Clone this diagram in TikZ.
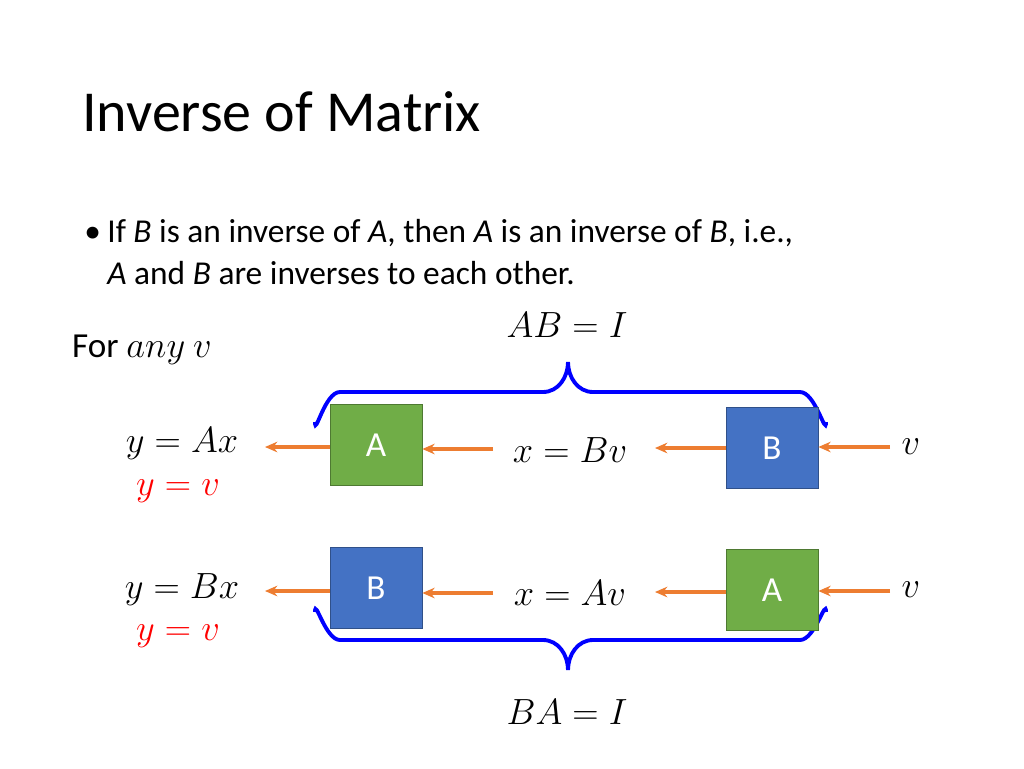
\documentclass[tikz,border=0pt]{standalone}
\usepackage{fontspec}
\setmainfont{Carlito}
\usetikzlibrary{arrows.meta}
\definecolor{gbox}{HTML}{70AD47}
\definecolor{bbox}{HTML}{4472C4}
\definecolor{oarr}{HTML}{ED7D31}
\definecolor{brc}{HTML}{0000FF}
\begin{document}
\begin{tikzpicture}[x=0.02cm,y=-0.02cm,
  gb/.style={draw=gbox!70!black,fill=gbox,minimum width=1.84cm,minimum height=1.62cm,text=white,font=\fontsize{20}{24}\selectfont},
  bb/.style={draw=bbox!70!black,fill=bbox,minimum width=1.84cm,minimum height=1.62cm,text=white,font=\fontsize{20}{24}\selectfont},
  arr/.style={draw=oarr,line width=1.8pt,-{Stealth[length=7pt,width=6pt]}},
  brace/.style={draw=brc,line width=2.2pt},
  mt/.style={font=\fontsize{20}{24}\selectfont,inner sep=1pt},
  bt/.style={font=\fontsize{19}{23}\selectfont,anchor=base west,inner sep=0pt}]
\useasboundingbox (0,0) rectangle (1024,768);
\node[anchor=base west,inner sep=0pt,font=\fontsize{33}{40}\selectfont] (title) at (82,131) {Inverse of Matrix};
\node[bt] (bul) at (84,242) {•};
\node[bt] (l1) at (107,242) {If \textit{B} is an inverse of \textit{A}, then \textit{A} is an inverse of \textit{B}, i.e.,};
\node[bt] (l2) at (107,284) {\textit{A} and \textit{B} are inverses to each other.};
\node[mt] (ab) at (567,325) {$AB=I$};
\node[mt,anchor=west] (for) at (70,350) {For $any\ v$};
\draw[brace] (315,422) to[out=-90,in=180] (340,392) -- (543,392) to[out=0,in=-90] (568,362) to[out=-90,in=180] (593,392) -- (800,392) to[out=0,in=-90] (826,422);
\draw[brace] (315,612) to[out=90,in=180] (340,640) -- (543,640) to[out=0,in=90] (568,670) to[out=90,in=180] (593,640) -- (800,640) to[out=0,in=90] (826,612);
\node[mt] (ba) at (567,712) {$BA=I$};
% row 1
\node[gb] (A1) at (376,445) {A};
\node[bb] (B1) at (772,448) {B};
\node[mt] (y1) at (182,444) {$y=Ax$};
\node[mt,text=red] (r1) at (178,491) {$y=v$};
\node[mt] (x1) at (570,450) {$x=Bv$};
\node[mt] (v1) at (911,447) {$v$};
\coordinate (p1) at (890,447); \coordinate (q1) at (265,447);
\draw[arr] (p1) -- (B1.east |- p1);
\draw[arr] (B1.west |- 0,448) -- (655,448);
\draw[arr] (493,449) -- (A1.east |- 0,449);
\draw[arr] (A1.west |- q1) -- (q1);
% row 2
\node[bb] (B2) at (376,588) {B};
\node[gb] (A2) at (772,590) {A};
\node[mt] (y2) at (182,590) {$y=Bx$};
\node[mt,text=red] (r2) at (178,636) {$y=v$};
\node[mt] (x2) at (570,593) {$x=Av$};
\node[mt] (v2) at (911,590) {$v$};
\coordinate (p2) at (890,591); \coordinate (q2) at (265,591);
\draw[arr] (p2) -- (A2.east |- p2);
\draw[arr] (A2.west |- 0,592) -- (655,592);
\draw[arr] (493,593) -- (B2.east |- 0,593);
\draw[arr] (B2.west |- q2) -- (q2);
\end{tikzpicture}
\end{document}
